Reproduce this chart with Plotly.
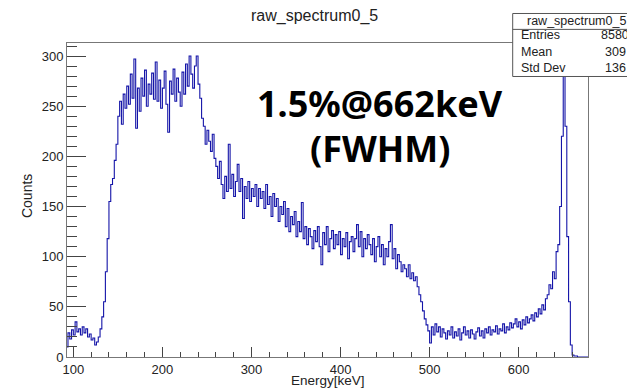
import numpy as np
import plotly.graph_objects as go

# ---- data (2 keV bins, counts per bin) ----
bin_start = 92.0
bin_width = 2.0
counts = [
    10, 24, 18, 27, 22, 35, 25, 28, 22, 30,        # 92-112
    24, 28, 20, 23, 17, 19, 12, 15, 20, 28,        # 112-132
    40, 55, 85, 118, 155, 172, 178, 196, 212, 240, # 132-152
    255, 232, 262, 248, 270, 252, 282, 258, 297, 228,
    268, 245, 278, 260, 286, 250, 272, 262, 283, 257,
    294, 255, 276, 248, 268, 285, 252, 224, 275, 262,
    287, 255, 278, 264, 250, 284, 262, 292, 270, 300,
    282, 268, 290, 300, 272, 258, 238, 230, 212, 226,  # 232-252
    215, 205, 222, 198, 190, 178, 195, 172, 158, 180,
    165, 212, 168, 182, 160, 175, 192, 165, 178, 138,
    170, 158, 175, 155, 168, 160, 172, 150, 168, 158,  # 292-312
    165, 148, 172, 152, 160, 140, 163, 150, 158, 135,
    150, 142, 155, 130, 148, 125, 140, 132, 145, 120,
    135, 125, 154, 118, 130, 112, 128, 120, 108, 126,
    115, 130, 110, 92, 124, 112, 130, 105, 118, 126,   # 372-392
    108, 122, 112, 125, 102, 118, 110, 124, 98, 115,
    120, 105, 118, 132, 110, 125, 100, 118, 108, 122,
    112, 102, 118, 95, 110, 120, 100, 112, 92, 108,
    100, 115, 132, 98, 108, 88, 102, 95, 85, 92,       # 452-472
    88, 80, 92, 78, 84, 76, 80, 70, 62, 55,
    46, 38, 32, 26, 14, 30, 22, 33, 25, 30,            # 492-512
    20, 28, 24, 18, 26, 22, 30, 19, 25, 21,
    28, 17, 24, 30, 22, 26, 19, 27, 23, 18,
    25, 29, 21, 26, 19, 28, 24, 30, 22, 27,
    25, 31, 23, 28, 26, 33, 24, 30, 27, 34,            # 572-592
    29, 33, 38, 30, 35, 28, 37, 32, 40, 34,
    38, 42, 36, 44, 40, 48, 43, 52, 47, 58,            # 612-632
    62, 72, 68, 85, 78, 105, 112, 150, 220, 296,       # 632-652
    230, 120, 55, 12, 2, 1, 1, 0, 0, 0,                # 652-672
    0, 0, 0,
]
x_range = [92.9, 677.8]
y_range = [0, 313]
x_ticks_major = 100
x_ticks_minor = 20
y_ticks_major = 50
y_ticks_minor = 10

title_text = "raw_spectrum0_5"
x_title = "Energy[keV]"
y_title = "Counts"
stats_title = "raw_spectrum0_5"
stats_names = ["Entries", "Mean", "Std Dev"]
stats_values = ["8580", "309", "136"]
note_line1 = "1.5%@662keV"
note_line2 = "(FWHM)"

# ---- figure ----
lo = bin_start + bin_width * np.arange(len(counts))
xs = list(lo) + [lo[-1] + bin_width]
ys = counts + [counts[-1]]

W, H = 627, 389
PL, PR, PT, PB = 67, 588, 43, 359


def fx(px):
    return (px - PL) / (PR - PL)


def fy(py):
    return (PB - py) / (PB - PT)


FONT = "Liberation Sans, Arial, sans-serif"
fig = go.Figure()
fig.add_trace(go.Scatter(x=xs, y=ys, mode="lines", line=dict(color="#1414a8", width=1.1, shape="hv"),
                         hoverinfo="skip", showlegend=False))

axis_common = dict(showgrid=False, zeroline=False, showline=True, linecolor="#777", linewidth=1,
                   mirror=True, ticks="inside", tickcolor="#444",
                   tickfont=dict(family=FONT, size=13, color="#222"))
fig.update_layout(
    width=W, height=H,
    margin=dict(l=PL, r=W - PR, t=PT, b=H - PB),
    paper_bgcolor="white", plot_bgcolor="white",
    xaxis=dict(range=x_range, tickmode="linear", tick0=0, dtick=x_ticks_major, ticklen=10,
               minor=dict(dtick=x_ticks_minor, tick0=0, ticklen=5, ticks="inside", tickcolor="#444", showgrid=False),
               **axis_common),
    yaxis=dict(range=y_range, tickmode="linear", tick0=0, dtick=y_ticks_major, ticklen=19,
               minor=dict(dtick=y_ticks_minor, tick0=0, ticklen=10, ticks="inside", tickcolor="#444", showgrid=False),
               **axis_common),
)

ann = []
ann.append(dict(text=title_text, x=fx(314), y=fy(16), xref="paper", yref="paper", showarrow=False,
                xanchor="center", yanchor="middle", font=dict(family=FONT, size=16, color="#222")))
ann.append(dict(text=x_title, x=fx(328), y=fy(382.5), xref="paper", yref="paper", showarrow=False,
                xanchor="center", yanchor="middle", font=dict(family=FONT, size=13.5, color="#222")))
ann.append(dict(text=y_title, x=fx(27), y=fy(197), xref="paper", yref="paper", showarrow=False,
                xanchor="center", yanchor="middle", textangle=-90, font=dict(family=FONT, size=14, color="#222")))

# stats box
bx0, bx1, by0, by1, bline = 512.7, 660, 13.3, 76.7, 29.3
shapes = [
    dict(type="rect", xref="paper", yref="paper", x0=fx(bx0), x1=fx(bx1), y0=fy(by1), y1=fy(by0),
         line=dict(color="#555", width=1), fillcolor="white", layer="above"),
    dict(type="line", xref="paper", yref="paper", x0=fx(bx0), x1=fx(bx1), y0=fy(bline), y1=fy(bline),
         line=dict(color="#555", width=1), layer="above"),
]
ann.append(dict(text=stats_title, x=fx(525), y=fy(21), xref="paper", yref="paper", showarrow=False,
                xanchor="left", yanchor="middle", font=dict(family=FONT, size=12.5, color="#222")))
row_y = [35, 51.7, 68.3]
val_x = [599, 602.7, 602.7]
for name, val, ry, vx in zip(stats_names, stats_values, row_y, val_x):
    ann.append(dict(text=name, x=fx(519), y=fy(ry), xref="paper", yref="paper", showarrow=False,
                    xanchor="left", yanchor="middle", font=dict(family=FONT, size=12.5, color="#222")))
    ann.append(dict(text=val, x=fx(vx), y=fy(ry), xref="paper", yref="paper", showarrow=False,
                    xanchor="left", yanchor="middle", font=dict(family=FONT, size=12.5, color="#222")))

NOTE_FONT = "Noto Sans, Open Sans, sans-serif"
ann.append(dict(text="<b>%s</b>" % note_line1, x=fx(380), y=fy(104), xref="paper", yref="paper", showarrow=False,
                xanchor="center", yanchor="middle", font=dict(family=NOTE_FONT, size=36, color="black")))
ann.append(dict(text="<b>%s</b>" % note_line2, x=fx(380), y=fy(149), xref="paper", yref="paper", showarrow=False,
                xanchor="center", yanchor="middle", font=dict(family=NOTE_FONT, size=36, color="black")))

fig.update_layout(annotations=ann, shapes=shapes)
fig.write_html("out.html", config={"displayModeBar": False},
               post_script="document.body.style.margin='0px';")
